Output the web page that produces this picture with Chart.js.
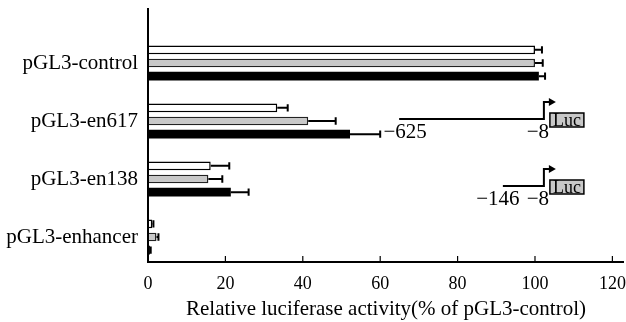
<!DOCTYPE html>
<html lang="en">
<head>
    <meta charset="UTF-8">
    <title>Relative luciferase activity</title>
    <style>
        body { margin: 0; background: #fff; }
        canvas { display: block; }
    </style>
</head>
<body>
    <canvas id="lucChart" width="626" height="322"></canvas>
    <script src="https://cdn.jsdelivr.net/npm/chart.js"></script>
    <script>
        // data
        const constructs = ['pGL3-control', 'pGL3-en617', 'pGL3-en138', 'pGL3-enhancer'];
        const whiteVals = [100, 33.4, 16.2, 1.1];
        const whiteErr  = [1.8, 2.7, 4.8, 0.3];
        const grayVals  = [100, 41.4, 15.6, 2.2];
        const grayErr   = [2.0, 7.1, 3.6, 0.5];
        const blackVals = [101, 52.2, 21.4, 0.5];
        const blackErr  = [1.6, 7.8, 4.6, 0.2];
        const xTicks = [0, 20, 40, 60, 80, 100, 120];

        const serif = '"Liberation Serif", "Times New Roman", serif';

        // error bars (positive side only) + axis extras + promoter sketches
        const extrasPlugin = {
            id: 'extras',
            afterDatasetsDraw(chart) {
                const ctx = chart.ctx;
                const x = chart.scales.x;
                const y = chart.scales.y;
                const errs = [whiteErr, grayErr, blackErr];
                ctx.save();
                ctx.strokeStyle = '#000';
                ctx.lineWidth = 2;
                chart.data.datasets.forEach((ds, i) => {
                    const meta = chart.getDatasetMeta(i);
                    meta.data.forEach((bar, j) => {
                        const x0 = x.getPixelForValue(ds.data[j]);
                        const x1 = x.getPixelForValue(ds.data[j] + errs[i][j]);
                        const h = bar.height * 0.85;
                        ctx.beginPath();
                        ctx.moveTo(x0, bar.y);
                        ctx.lineTo(x1, bar.y);
                        ctx.moveTo(x1, bar.y - h / 2);
                        ctx.lineTo(x1, bar.y + h / 2);
                        ctx.stroke();
                    });
                });

                // axis lines
                const axisY = y.bottom - 4;
                ctx.lineWidth = 2;
                ctx.beginPath();
                ctx.moveTo(x.left, 8);
                ctx.lineTo(x.left, axisY);
                ctx.lineTo(x.right, axisY);
                ctx.stroke();
                ctx.lineWidth = 1.2;
                xTicks.forEach(v => {
                    const px = x.getPixelForValue(v);
                    ctx.beginPath();
                    ctx.moveTo(px, axisY);
                    ctx.lineTo(px, axisY - 6);
                    ctx.stroke();
                });

                // promoter sketches
                const drawConstruct = (cy, fromVal, label, labelShift) => {
                    const xa = x.getPixelForValue(fromVal);
                    const xb = x.getPixelForValue(102.3);
                    ctx.lineWidth = 2;
                    ctx.beginPath();
                    ctx.moveTo(xa, cy);
                    ctx.lineTo(xb, cy);
                    ctx.lineTo(xb, cy - 17);
                    ctx.lineTo(xb + 7, cy - 17);
                    ctx.stroke();
                    ctx.fillStyle = '#000';
                    ctx.beginPath();
                    ctx.moveTo(xb + 12, cy - 17);
                    ctx.lineTo(xb + 5, cy - 21);
                    ctx.lineTo(xb + 5, cy - 13);
                    ctx.closePath();
                    ctx.fill();
                    // Luc box
                    const bx = xb + 6, by = cy - 6;
                    ctx.fillStyle = '#c8c8c8';
                    ctx.fillRect(bx, by, 34, 14);
                    ctx.lineWidth = 1.5;
                    ctx.strokeRect(bx, by, 34, 14);
                    ctx.fillStyle = '#000';
                    ctx.font = '18px ' + serif;
                    ctx.textAlign = 'center';
                    ctx.textBaseline = 'middle';
                    ctx.fillText('Luc', bx + 17, by + 8);
                    ctx.font = '21px ' + serif;
                    ctx.textBaseline = 'alphabetic';
                    ctx.fillText(label, xa + labelShift, cy + 19);
                    ctx.fillText('\u22128', xb - 6, cy + 19);
                };
                drawConstruct(y.getPixelForValue(1) - 2, 64.9, '\u2212625', 6);
                drawConstruct(y.getPixelForValue(2) + 7, 91.7, '\u2212146', -5);
                ctx.restore();
            }
        };

        const ctx = document.getElementById('lucChart').getContext('2d');
        new Chart(ctx, {
            type: 'bar',
            data: {
                labels: constructs,
                datasets: [
                    { data: whiteVals, backgroundColor: '#ffffff', borderColor: '#000', borderWidth: 1.5 },
                    { data: grayVals, backgroundColor: '#c8c8c8', borderColor: '#222', borderWidth: 1.5 },
                    { data: blackVals, backgroundColor: '#000000', borderColor: '#000', borderWidth: 0 }
                ]
            },
            options: {
                indexAxis: 'y',
                responsive: false,
                animation: false,
                events: [],
                layout: { padding: { top: 34, right: 2, left: 0, bottom: 0 } },
                plugins: { legend: { display: false }, tooltip: { enabled: false } },
                datasets: { bar: { categoryPercentage: 0.68, barPercentage: 0.65 } },
                scales: {
                    x: {
                        min: 0,
                        max: 123,
                        border: { display: false },
                        grid: { display: false, drawTicks: false },
                        afterBuildTicks: s => { s.ticks = xTicks.map(v => ({ value: v })); },
                        afterFit: s => { s.height = 56; s.paddingRight = 0; s.paddingLeft = 0; },
                        ticks: { color: '#000', padding: 7, font: { family: serif, size: 18 } },
                        title: {
                            display: true,
                            text: 'Relative luciferase activity(% of pGL3-control)',
                            color: '#000',
                            padding: { top: 0, bottom: 0 },
                            font: { family: serif, size: 21 }
                        }
                    },
                    y: {
                        border: { display: false },
                        grid: { display: false, drawTicks: false },
                        afterFit: s => { s.width = 148; s.paddingTop = 0; s.paddingBottom = 0; },
                        ticks: { color: '#000', padding: 10, font: { family: serif, size: 21 } }
                    }
                }
            },
            plugins: [extrasPlugin]
        });
    </script>
</body>
</html>
